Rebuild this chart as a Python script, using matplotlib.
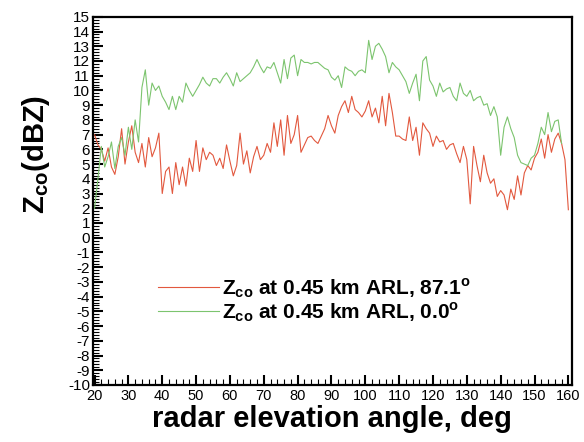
import numpy as np
import matplotlib
matplotlib.use("Agg")
import matplotlib.pyplot as plt
from matplotlib.ticker import MultipleLocator

plt.rcParams["font.family"] = ["Liberation Sans", "DejaVu Sans"]
plt.rcParams["mathtext.fontset"] = "custom"
plt.rcParams["mathtext.rm"] = "Liberation Sans:bold"
plt.rcParams["mathtext.bf"] = "Liberation Sans:bold"
plt.rcParams["axes.unicode_minus"] = False

# elevation angle, deg (1 deg steps)
angle = np.arange(20, 161)

# Zco at 0.45 km ARL, 87.1 deg
zco_871 = [
    7.0, 6.3, 6.0, 5.2, 6.1, 4.8, 4.3, 5.5, 7.4, 5.0,
    6.5, 7.6, 5.8, 5.1, 6.4, 4.8, 6.8, 5.5, 6.1, 7.1,
    3.0, 4.5, 4.8, 3.0, 5.1, 3.6, 4.8, 3.5, 5.4, 4.5,
    6.6, 4.5, 6.1, 5.3, 5.8, 5.6, 4.9, 5.4, 4.7, 6.3,
    5.2, 4.2, 4.9, 7.1, 5.0, 5.9, 4.4, 5.5, 6.2, 5.3,
    5.6, 6.4, 5.8, 7.8, 6.2, 8.0, 5.6, 8.3, 6.4, 7.0,
    8.3, 5.8, 6.3, 6.8, 6.9, 6.6, 6.4, 6.9, 7.4, 8.3,
    7.6, 7.1, 8.3, 8.9, 9.3, 8.5, 9.6, 8.7, 8.5, 8.2,
    8.6, 9.3, 8.2, 8.8, 7.8, 9.6, 7.6, 9.8, 8.5, 6.9,
    6.9, 6.7, 6.6, 8.2, 6.6, 7.5, 5.6, 7.8, 7.4, 7.1,
    6.2, 6.9, 6.5, 6.6, 6.0, 6.3, 6.4, 5.7, 5.1, 6.2,
    5.3, 2.3, 6.2, 4.9, 3.8, 5.6, 4.4, 3.7, 4.0, 2.8,
    3.2, 2.9, 1.9, 3.3, 2.6, 4.2, 2.9, 4.4, 4.9, 4.6,
    5.4, 5.8, 6.7, 5.4, 7.0, 5.8, 6.7, 7.1, 6.4, 5.3,
    1.9,
]

# Zco at 0.45 km ARL, 0.0 deg
zco_00 = [
    2.0, 4.0, 6.2, 4.8, 5.5, 6.5, 4.7, 6.2, 6.8, 5.6,
    7.5, 6.0, 8.0, 6.5, 10.2, 11.4, 9.0, 10.5, 10.0, 10.3,
    9.6, 9.2, 8.7, 9.6, 8.7, 9.6, 9.2, 10.5, 10.0, 9.6,
    10.0, 10.4, 10.9, 10.5, 10.3, 10.8, 10.8, 10.5, 10.9, 11.2,
    10.8, 10.3, 11.2, 10.6, 10.8, 11.0, 11.2, 11.6, 12.1, 11.6,
    11.2, 11.6, 11.5, 11.9, 11.2, 10.5, 12.1, 10.8, 12.2, 12.4,
    11.0, 12.1, 11.9, 11.9, 11.8, 11.9, 11.9, 11.7, 11.5, 11.4,
    10.9, 10.7, 11.0, 10.2, 11.6, 11.4, 11.3, 11.0, 11.3, 11.4,
    11.2, 13.4, 12.1, 13.0, 13.2, 12.8, 12.3, 11.2, 11.9, 11.6,
    11.4, 11.0, 10.6, 9.8, 10.5, 11.1, 9.3, 12.0, 12.3, 10.7,
    10.3, 9.6, 10.5, 9.9, 10.1, 10.2, 9.6, 9.3, 10.5, 9.8,
    9.6, 10.0, 9.3, 9.5, 9.6, 9.0, 9.1, 8.3, 8.9, 8.2,
    5.6, 7.5, 8.2, 7.4, 6.8, 5.6, 5.1, 5.0, 4.9, 5.4,
    5.6, 6.4, 7.5, 7.0, 8.5, 7.2, 7.9, 8.0, 6.4, np.nan,
    np.nan,
]

fig = plt.figure(figsize=(5.84, 4.42), dpi=100)
ax = fig.add_axes([0.159, 0.129, 0.820, 0.833])

ax.plot(angle, zco_871, color="#e2583e", lw=0.8,
        label=r"$\mathbf{Z_{co}}$ at 0.45 km ARL, 87.1$^\mathbf{o}$")
ax.plot(angle, zco_00, color="#7cc46e", lw=0.8,
        label=r"$\mathbf{Z_{co}}$ at 0.45 km ARL, 0.0$^\mathbf{o}$")

ax.set_xlim(19.5, 161)
ax.set_ylim(-10, 15)
ax.xaxis.set_major_locator(MultipleLocator(10))
ax.xaxis.set_minor_locator(MultipleLocator(2))
ax.yaxis.set_major_locator(MultipleLocator(1))
ax.yaxis.set_minor_locator(MultipleLocator(0.2))
ax.tick_params(which="both", direction="in", top=False, right=False)
ax.tick_params(which="major", length=7, width=1.5)
ax.tick_params(which="minor", length=4, width=0.8)
ax.tick_params(axis="x", labelsize=10.5, pad=3)
ax.tick_params(axis="y", labelsize=11, pad=2)
for s in ax.spines.values():
    s.set_linewidth(1.6)

ax.set_xlabel("radar elevation angle, deg", fontsize=21, fontweight="bold", labelpad=1)
ax.set_ylabel(r"$\mathbf{Z_{co}}$(dBZ)", fontsize=21, fontweight="bold")
ax.yaxis.set_label_coords(-0.085, 0.625)

leg = ax.legend(loc="upper left", bbox_to_anchor=(0.115, 0.324), frameon=False,
                prop={"size": 15, "weight": "bold"}, handlelength=2.9,
                handletextpad=0.15, labelspacing=0.0, borderpad=0)

fig.savefig("out.png", dpi=100)
